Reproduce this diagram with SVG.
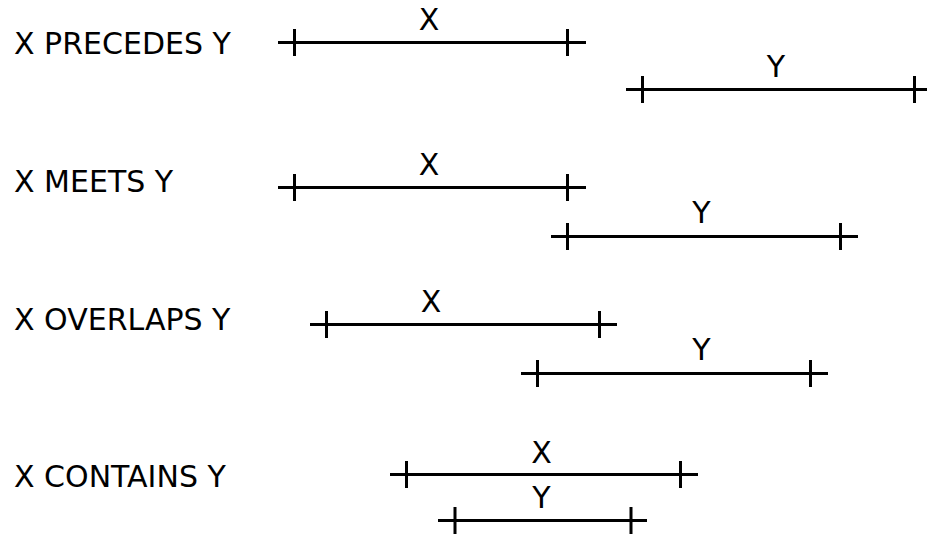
<svg xmlns="http://www.w3.org/2000/svg" width="927" height="534" viewBox="0 0 927 534">
<style>
text{font-family:"DejaVu Sans","Liberation Sans",sans-serif;font-size:30px;fill:#000}
.c{text-anchor:middle}
.ln{stroke:#000;stroke-width:3;fill:none}
</style>
<rect width="927" height="534" fill="#fff"/>
<g id="labels">
<text x="14" y="54">X PRECEDES Y</text>
<text x="14" y="192">X MEETS Y</text>
<text x="14" y="330">X OVERLAPS Y</text>
<text x="14" y="487">X CONTAINS Y</text>
</g>
<g id="connectors">
<g id="precedes-x"><path class="ln" d="M278 42.5H586M294.5 29V56M567.5 29V56"/><text class="c" x="429" y="30">X</text></g>
<g id="precedes-y"><path class="ln" d="M626 89.5H927M642.5 76V103M914.5 76V103"/><text class="c" x="776" y="77">Y</text></g>
<g id="meets-x"><path class="ln" d="M278 187.5H586M294.5 174V201M567.5 174V201"/><text class="c" x="429" y="175">X</text></g>
<g id="meets-y"><path class="ln" d="M551 236.5H858M567.5 223V250M840.5 223V250"/><text class="c" x="701.5" y="223">Y</text></g>
<g id="overlaps-x"><path class="ln" d="M310 324.5H617M326.5 311V338M599.5 311V338"/><text class="c" x="431" y="312">X</text></g>
<g id="overlaps-y"><path class="ln" d="M521 373.5H828M537.5 360V387M810.5 360V387"/><text class="c" x="701.5" y="360">Y</text></g>
<g id="contains-x"><path class="ln" d="M390 474.5H698M406.5 461V488M680.5 461V488"/><text class="c" x="541.5" y="463">X</text></g>
<g id="contains-y"><path class="ln" d="M438 520.5H647M455 507V534M631 507V534"/><text class="c" x="541.5" y="508">Y</text></g>
</g>
</svg>
